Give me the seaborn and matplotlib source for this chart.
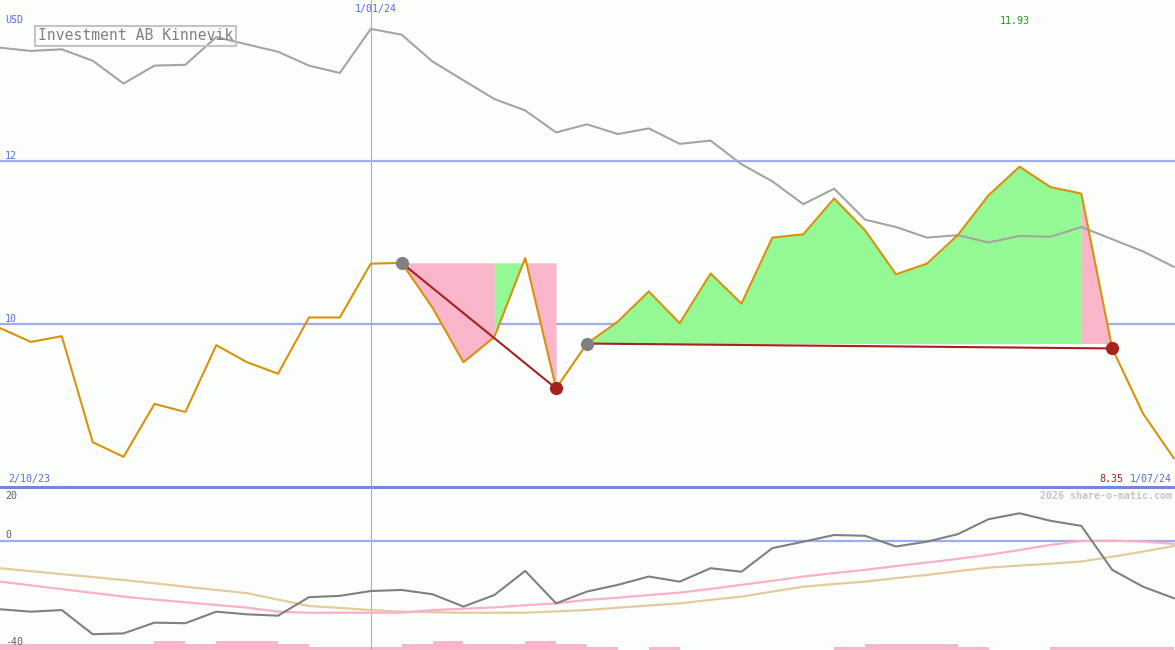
import numpy as np
import pandas as pd
import matplotlib
matplotlib.use("Agg")
import matplotlib.pyplot as plt
import seaborn as sns
from itertools import groupby

# weekly closes (USD), Oct 2023 - Jul 2024
price = [9.95, 9.78, 9.85, 8.55, 8.37, 9.02, 8.92, 9.74, 9.53, 9.39,
         10.08, 10.08, 10.74, 10.75, 10.20, 9.53, 9.84, 10.81, 9.21, 9.76,
         10.03, 10.40, 10.01, 10.62, 10.25, 11.06, 11.10, 11.54, 11.15, 10.61,
         10.74, 11.09, 11.58, 11.93, 11.68, 11.60, 9.70, 8.90, 8.35]
# comparison index, rescaled to the price axis
index_line = [13.39, 13.35, 13.37, 13.23, 12.95, 13.17, 13.18, 13.52, 13.43, 13.34,
              13.17, 13.08, 13.62, 13.55, 13.22, 12.99, 12.76, 12.62, 12.35, 12.45,
              12.33, 12.40, 12.21, 12.25, 11.96, 11.75, 11.47, 11.66, 11.28, 11.19,
              11.06, 11.09, 11.00, 11.08, 11.07, 11.19, 11.04, 10.89, 10.70]
# lower panel
momentum = [-25.6, -26.5, -25.9, -34.9, -34.6, -30.6, -30.8, -26.5, -27.5, -28.0,
            -21.1, -20.6, -18.8, -18.4, -20.0, -24.6, -20.3, -11.3, -23.4, -19.0,
            -16.5, -13.4, -15.3, -10.3, -11.6, -2.8, -0.4, 2.1, 1.8, -2.2,
            -0.4, 2.4, 8.0, 10.2, 7.4, 5.5, -10.9, -17.2, -21.5]
avg_fast = [-15.3, -16.7, -18.1, -19.5, -20.9, -22.0, -23.0, -24.0, -25.0, -26.5,
            -26.9, -26.9, -26.9, -26.9, -25.9, -25.4, -24.9, -24.1, -23.4, -22.1,
            -21.3, -20.3, -19.4, -18.0, -16.5, -15.0, -13.4, -12.1, -10.9, -9.5,
            -8.2, -6.8, -5.3, -3.5, -1.6, -0.1, 0.0, -0.4, -1.2]
avg_slow = [-10.3, -11.4, -12.5, -13.6, -14.7, -15.9, -17.2, -18.4, -19.6, -22.0,
            -24.4, -25.1, -25.9, -26.5, -26.7, -26.9, -26.9, -26.9, -26.4, -25.9,
            -25.0, -24.2, -23.4, -22.1, -20.9, -19.0, -17.2, -16.2, -15.3, -14.0,
            -12.8, -11.4, -10.1, -9.3, -8.6, -7.8, -6.0, -4.1, -2.0]
volume = [2, 2, 2, 2, 2, 3, 2, 3, 3, 2, 1, 1, 1, 2, 3, 2, 2, 3, 2, 1,
          0, 1, 0, 0, 0, 0, 0, 1, 2, 2, 2, 1, 0, 0, 1, 1, 1, 1]
date_labels = ["2/10/23", "1/01/24", "1/07/24"]
date_pos = [0, 12, 38]
# swings: start week, end week, state of each weekly segment
swing_a = (13, 18)
swing_a_state = ["down", "down", "down", "up", "down"]
swing_b = (19, 36)
swing_b_state = ["up"] * 16 + ["down"]

bg = "#fcfefc"
blue = "#a0acf0"
orange = "#d8920c"
red = "#a82020"
fill_col = {"up": "#94f894", "down": "#f9b5c9"}

sns.set_style("white")
plt.rcParams["font.family"] = ["DejaVu Sans Mono"]

df = pd.DataFrame({"week": np.arange(len(price)), "price": price,
                   "index": index_line, "momentum": momentum,
                   "fast": avg_fast, "slow": avg_slow})
n = len(price) - 1

fig = plt.figure(figsize=(11.75, 6.5), dpi=100, facecolor=bg)
ax = fig.add_axes([0, 163 / 650, 1, 487 / 650], facecolor=bg)
low = fig.add_axes([0, 0, 1, 163 / 650], facecolor=bg)
for a in (ax, low):
    a.set_xlim(0, n * 1175 / 1174)
    a.axis("off")
ax.set_ylim(8, 13.975)
low.set_ylim(-40.8, 20)

# grid
for lvl in (10, 12):
    ax.axhline(lvl, color=blue, lw=1.6, zorder=1)
ax.axvline(date_pos[1], color=blue, lw=0.8, zorder=1)
low.axvline(date_pos[1], color=blue, lw=0.8, zorder=1)
low.axhline(0, color=blue, lw=1.6, zorder=1)
ax.axhline(8, color="#7484e4", lw=2.2, zorder=5, clip_on=False)

# swing fills, one patch per run of equal state
for (s, e), states in ((swing_a, swing_a_state), (swing_b, swing_b_state)):
    base = price[s]
    k = s
    for st, run in groupby(states):
        m = len(list(run))
        ax.fill_between(df.week[k:k + m + 1], df.price[k:k + m + 1], base,
                        color=fill_col[st], lw=0, zorder=2)
        k += m

sns.lineplot(data=df, x="week", y="index", ax=ax, color="#a4a4a4", lw=1.5, zorder=3)
sns.lineplot(data=df, x="week", y="price", ax=ax, color=orange, lw=1.5, zorder=4)

for s, e in (swing_a, swing_b):
    ax.plot([s, e], [price[s], price[e]], color=red, lw=1.5, zorder=5)
    ax.plot(s, price[s], "o", color="#808080", ms=8.5, zorder=6)
    ax.plot(e, price[e], "o", color=red, ms=8.5, zorder=6)

# lower panel
vax = low.twinx()
vax.axis("off")
vax.set_ylim(0, 163 / 3)
vax.bar(np.arange(n) + 0.5, volume, width=1.0, color="#f9b5c9", lw=0, zorder=1)
low.set_zorder(vax.get_zorder() + 1)
low.patch.set_visible(False)
sns.lineplot(data=df, x="week", y="slow", ax=low, color="#e2cc9c", lw=1.6)
sns.lineplot(data=df, x="week", y="fast", ax=low, color="#f9b0c8", lw=1.6)
sns.lineplot(data=df, x="week", y="momentum", ax=low, color="#808080", lw=1.5)


def px(x, y, s, **kw):
    fig.text(x / 1175, 1 - y / 650, s, fontsize=7.2, **kw)


px(5, 20, "USD", color="#5a6ae8", va="center")
px(5, 156, "12", color="#5a6ae8", va="center")
px(5, 319, "10", color="#5a6ae8", va="center")
px(376, 9, date_labels[1], color="#5a6ae8", va="center", ha="center")
px(8, 479, date_labels[0], color="#5a6ae8", va="center")
px(1172, 479, date_labels[2], color="#5a6ae8", va="center", ha="right")
px(1123, 479, "%.2f" % price[-1], color=red, va="center", ha="right")
px(1030, 21, "%.2f" % max(price), color="#1a9a1a", va="center", ha="right")
px(1172, 496, "2026 share-o-matic.com", color="#c4c4c4", va="center", ha="right",
   fontweight="bold")
px(5, 496, "20", color="#606060", va="center")
px(5, 535, "0", color="#606060", va="center")
px(5, 642, "-40", color="#606060", va="center")
fig.text(38 / 1175, 1 - 36 / 650, "Investment AB Kinnevik", fontsize=10.6,
         color="#808080", va="center",
         bbox=dict(boxstyle="square,pad=0.2", fc="none", ec="#c4c4c4", lw=1.5))

fig.savefig("out.png", dpi=100, facecolor=bg)
